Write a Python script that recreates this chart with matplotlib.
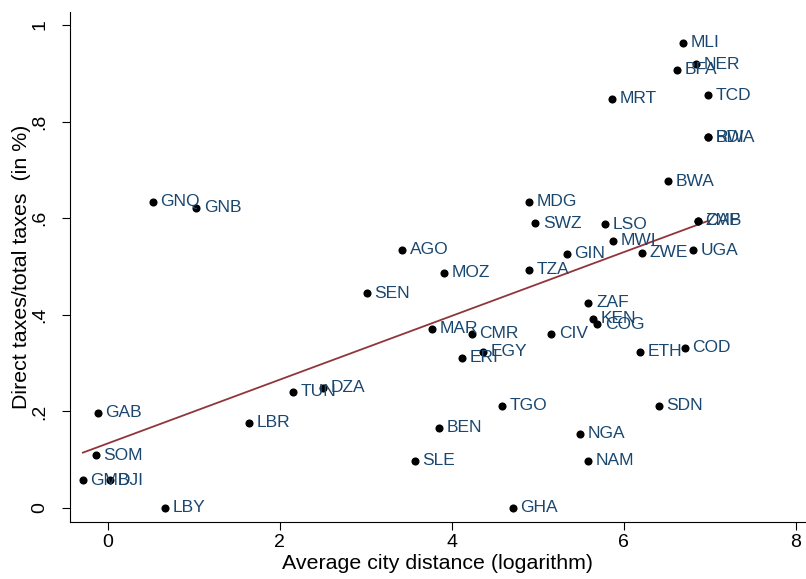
import numpy as np
import matplotlib

matplotlib.use("Agg")
import matplotlib.pyplot as plt

plt.rcParams["font.family"] = ["Liberation Sans", "DejaVu Sans"]

# country codes, log city distance, direct/total tax share
countries = [
    "MLI", "NER", "BFA", "MRT", "TCD", "BDI", "RWA", "BWA", "ZMB", "CAF",
    "LSO", "MWI", "GIN", "ZWE", "UGA", "ZAF", "KEN", "COG", "ETH", "COD",
    "MAR", "CMR", "CIV", "EGY", "ERI", "GAB", "SOM", "GMB", "DJI", "LBY",
    "LBR", "GNQ", "GNB", "MDG", "SWZ", "AGO", "MOZ", "TZA", "SEN", "TUN",
    "DZA", "TGO", "SDN", "BEN", "SLE", "GHA", "NGA", "NAM",
]
distance = [
    6.69, 6.84, 6.62, 5.86, 6.98, 6.98, 6.98, 6.52, 6.86, 6.86,
    5.78, 5.87, 5.34, 6.21, 6.81, 5.59, 5.64, 5.69, 6.19, 6.71,
    3.77, 4.23, 5.16, 4.36, 4.12, -0.12, -0.14, -0.29, 0.02, 0.66,
    1.64, 0.52, 1.03, 4.90, 4.97, 3.42, 3.91, 4.90, 3.01, 2.15,
    2.50, 4.58, 6.41, 3.85, 3.57, 4.71, 5.49, 5.58,
]
tax_share = [
    0.963, 0.919, 0.907, 0.847, 0.855, 0.768, 0.768, 0.677, 0.595, 0.595,
    0.588, 0.553, 0.526, 0.528, 0.534, 0.425, 0.392, 0.380, 0.324, 0.332,
    0.371, 0.361, 0.361, 0.324, 0.311, 0.197, 0.109, 0.057, 0.057, 0.000,
    0.177, 0.634, 0.622, 0.634, 0.590, 0.535, 0.487, 0.493, 0.445, 0.241,
    0.249, 0.212, 0.212, 0.166, 0.098, 0.000, 0.154, 0.098,
]
x_ticks = [0, 2, 4, 6, 8]
y_ticks = [0, 0.2, 0.4, 0.6, 0.8, 1.0]
y_tick_labels = ["0", ".2", ".4", ".6", ".8", "1"]

navy = "#1a476f"
maroon = "#90353b"

x = np.array(distance)
y = np.array(tax_share)

fig = plt.figure(figsize=(8.06, 5.79), dpi=100)
ax = fig.add_axes([70 / 806, 1 - 522 / 579, 1 - 70 / 806, (522 - 12) / 579])

ax.scatter(x, y, s=34, color="black", zorder=3, linewidths=0)
for code, xi, yi in zip(countries, x, y):
    ax.annotate(code, (xi, yi), xytext=(5.5, 0), textcoords="offset points",
                ha="left", va="center", color=navy, fontsize=12.5, zorder=4)

# linear fit over the observed range
slope, intercept = np.polyfit(x, y, 1)
xs = np.array([x.min(), x.max()])
ax.plot(xs, intercept + slope * xs, color=maroon, lw=1.3, zorder=2)

ax.set_xlim(-0.44, 8.12)
ax.set_ylim(-0.029, 1.027)
ax.set_xticks(x_ticks)
ax.set_xticklabels([str(t) for t in x_ticks])
ax.set_yticks(y_ticks)
ax.set_yticklabels(y_tick_labels, rotation=90, va="center")
ax.tick_params(axis="x", length=5.5, width=0.8, labelsize=14, pad=3)
ax.tick_params(axis="y", length=5.5, width=0.8, labelsize=14, pad=10)
for side in ("top", "right"):
    ax.spines[side].set_visible(False)
for side in ("left", "bottom"):
    ax.spines[side].set_linewidth(0.8)

ax.set_xlabel("Average city distance (logarithm)", fontsize=15.4, labelpad=2)
ax.set_ylabel("Direct taxes/total taxes  (in %)", fontsize=15.4)
ax.yaxis.set_label_coords(-0.053, 0.5)

fig.savefig("out.png", dpi=100)
